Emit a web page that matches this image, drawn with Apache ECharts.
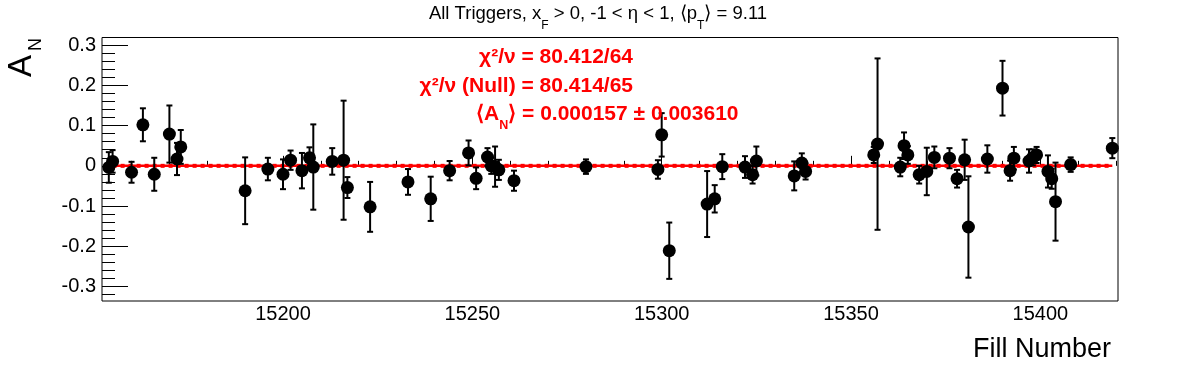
<!DOCTYPE html>
<html>
<head>
<meta charset="utf-8">
<script src="https://cdn.jsdelivr.net/npm/echarts@6/dist/echarts.min.js"></script>
<style>
  html, body { margin: 0; padding: 0; background: #ffffff; }
  #chart { width: 1196px; height: 372px; }
</style>
</head>
<body>
<div id="chart"></div>
<script>
// ---- data ----
const fillNumbers = [15154,15155,15160,15163,15166,15170,15172,15173,15190,15196,
  15200,15202,15205,15207,15208,15213,15216,15217,15223,15233,
  15239,15244,15249,15251,15254,15255,15256,15257,15261,15280,
  15299,15300,15302,15312,15314,15316,15322,15324,15325,15335,
  15337,15338,15356,15357,15363,15364,15365,15368,15370,15372,
  15376,15378,15380,15381,15386,15390,15392,15393,15397,15398,
  15399,15402,15403,15404,15408,15419];
const asymValues = [-0.004,0.011,-0.016,0.102,-0.021,0.079,0.017,0.047,-0.062,-0.008,
  -0.021,0.014,-0.012,0.020,-0.003,0.011,0.014,-0.054,-0.102,-0.040,
  -0.082,-0.012,0.032,-0.031,0.022,0.000,-0.002,-0.010,-0.037,-0.002,
  -0.009,0.077,-0.211,-0.095,-0.082,-0.002,-0.003,-0.022,0.012,-0.025,
  0.007,-0.014,0.027,0.054,-0.003,0.050,0.027,-0.022,-0.014,0.021,
  0.019,-0.032,0.015,-0.152,0.017,0.193,-0.012,0.019,0.012,0.021,
  0.027,-0.014,-0.032,-0.089,0.003,0.044];
const asymErrors = [0.038,0.028,0.026,0.041,0.041,0.071,0.040,0.042,0.083,0.028,
  0.037,0.024,0.044,0.026,0.106,0.033,0.148,0.026,0.062,0.032,
  0.055,0.024,0.031,0.027,0.022,0.020,0.050,0.025,0.025,0.018,
  0.023,0.054,0.070,0.082,0.034,0.031,0.027,0.022,0.036,0.036,
  0.024,0.020,0.020,0.213,0.023,0.033,0.022,0.022,0.059,0.027,
  0.025,0.022,0.050,0.126,0.034,0.068,0.025,0.028,0.029,0.020,
  0.020,0.040,0.025,0.097,0.018,0.025];
const fitValue = 0.000157;
const nullValue = 0;
const fitRange = [15155, 15419];
const xRange = [15152.2, 15420.5];
const yRange = [-0.336, 0.319];
const xMajorTicks = [15200, 15250, 15300, 15350, 15400];
const xMinorTicks = [15160,15170,15180,15190,15200,15210,15220,15230,15240,15250,
  15260,15270,15280,15290,15300,15310,15320,15330,15340,15350,15360,15370,15380,
  15390,15400,15410,15420];
const yMajorTicks = [-0.3, -0.2, -0.1, 0, 0.1, 0.2, 0.3];
const yMinorTicks = [-0.32,-0.30,-0.28,-0.26,-0.24,-0.22,-0.20,-0.18,-0.16,-0.14,-0.12,
  -0.10,-0.08,-0.06,-0.04,-0.02,0,0.02,0.04,0.06,0.08,0.10,0.12,0.14,0.16,0.18,0.20,
  0.22,0.24,0.26,0.28,0.30];
const titleParts = ['All Triggers, x', 'F', ' > 0, -1 < η < 1, ⟨p', 'T', '⟩ = 9.11'];
const statLines = ['χ²/ν = 80.412/64', 'χ²/ν (Null) = 80.414/65'];
const meanParts = ['⟨A', 'N', '⟩ = 0.000157 ± 0.003610'];
const xTitle = 'Fill Number';
const yTitleParts = ['A', 'N'];

// ---- drawing ----
const FAM = '"Liberation Sans", Arial, Helvetica, sans-serif';
const measureCtx = document.createElement('canvas').getContext('2d');
function textWidth(t, font) { measureCtx.font = font; return measureCtx.measureText(t).width; }

// lay out a run of text segments horizontally; seg: {t, font, y}
function layoutRun(segs, x0, align) {
  const widths = segs.map(s => textWidth(s.t, s.font));
  const total = widths.reduce((a, b) => a + b, 0);
  let x = align === 'right' ? x0 - total : (align === 'center' ? x0 - total / 2 : x0);
  const out = [];
  segs.forEach((s, i) => {
    out.push({ type: 'text', silent: true, z: 100,
      style: { x: x, y: s.y, text: s.t, font: s.font, fill: s.fill || '#000',
               align: 'left', verticalAlign: 'middle' } });
    x += widths[i];
  });
  return out;
}

const graphics = [];
// title
const tf = '18.5px ' + FAM, tsf = '12px ' + FAM;
graphics.push(...layoutRun([
  { t: titleParts[0], font: tf, y: 14 },
  { t: titleParts[1], font: tsf, y: 25.5 },
  { t: titleParts[2], font: tf, y: 14 },
  { t: titleParts[3], font: tsf, y: 25.5 },
  { t: titleParts[4], font: tf, y: 14 }
], 598, 'center'));
// stats
const sf = 'bold 21px ' + FAM, ssf = 'bold 12.5px ' + FAM;
graphics.push(...layoutRun([{ t: statLines[0], font: sf, y: 57, fill: '#ff0000' }], 633, 'right'));
graphics.push(...layoutRun([{ t: statLines[1], font: sf, y: 85.8, fill: '#ff0000' }], 633, 'right'));
graphics.push(...layoutRun([
  { t: meanParts[0], font: sf, y: 114, fill: '#ff0000' },
  { t: meanParts[1], font: ssf, y: 126, fill: '#ff0000' },
  { t: meanParts[2], font: sf, y: 114, fill: '#ff0000' }
], 476, 'left'));
// x title
graphics.push(...layoutRun([{ t: xTitle, font: '27px ' + FAM, y: 350 }], 1111, 'right'));
// y title (rotated group)
const yaF = '33px ' + FAM, ynF = '18px ' + FAM;
const aw = textWidth(yTitleParts[0], yaF);
graphics.push({ type: 'group', x: 33.5, y: 77, rotation: Math.PI / 2, silent: true, children: [
  { type: 'text', style: { x: 0, y: -11.8, text: yTitleParts[0], font: yaF, fill: '#000', align: 'left', verticalAlign: 'middle' } },
  { type: 'text', style: { x: aw + 4, y: 2.8, text: yTitleParts[1], font: ynF, fill: '#000', align: 'left', verticalAlign: 'middle' } }
]});

const pointData = fillNumbers.map((f, i) => [f, asymValues[i]]);
const errData = fillNumbers.map((f, i) => [f, asymValues[i], asymErrors[i]]);

function renderErr(params, api) {
  const x = api.value(0), y = api.value(1), e = api.value(2);
  const top = api.coord([x, y + e]);
  const bot = api.coord([x, y - e]);
  const cw = 3;
  const st = { stroke: '#000', lineWidth: 2 };
  return { type: 'group', children: [
    { type: 'line', shape: { x1: top[0], y1: top[1], x2: bot[0], y2: bot[1] }, style: st },
    { type: 'line', shape: { x1: top[0] - cw, y1: top[1], x2: top[0] + cw, y2: top[1] }, style: st },
    { type: 'line', shape: { x1: bot[0] - cw, y1: bot[1], x2: bot[0] + cw, y2: bot[1] }, style: st }
  ]};
}

const axLabel = { color: '#000', fontFamily: FAM, fontSize: 20 };
const chart = echarts.init(document.getElementById('chart'), null, { renderer: 'canvas' });
chart.setOption({
  animation: false,
  backgroundColor: '#ffffff',
  grid: { left: 102, top: 37.5, width: 1016, height: 263.5, show: true,
          borderColor: '#000', borderWidth: 1, backgroundColor: 'transparent', containLabel: false },
  xAxis: [
    { type: 'value', position: 'bottom', min: xRange[0], max: xRange[1],
      axisLine: { show: false }, splitLine: { show: false },
      axisTick: { show: true, inside: true, length: 10, customValues: xMajorTicks, lineStyle: { color: '#000', width: 1 } },
      axisLabel: Object.assign({ show: true, margin: 3, customValues: xMajorTicks, formatter: v => String(Math.round(v)) }, axLabel) },
    { type: 'value', position: 'bottom', min: xRange[0], max: xRange[1],
      axisLine: { show: false }, splitLine: { show: false },
      axisTick: { show: true, inside: true, length: 5, customValues: xMinorTicks, lineStyle: { color: '#000', width: 1 } },
      axisLabel: { show: false } }
  ],
  yAxis: [
    { type: 'value', position: 'left', min: yRange[0], max: yRange[1],
      axisLine: { show: false }, splitLine: { show: false },
      axisTick: { show: true, inside: true, length: 26, customValues: yMajorTicks, lineStyle: { color: '#000', width: 1 } },
      axisLabel: Object.assign({ show: true, margin: 6, customValues: yMajorTicks,
        formatter: v => (Math.abs(v) < 1e-9 ? '0' : v.toFixed(1)) }, axLabel) },
    { type: 'value', position: 'left', min: yRange[0], max: yRange[1],
      axisLine: { show: false }, splitLine: { show: false },
      axisTick: { show: true, inside: true, length: 13, customValues: yMinorTicks, lineStyle: { color: '#000', width: 1 } },
      axisLabel: { show: false } }
  ],
  graphic: graphics,
  series: [
    { type: 'line', xAxisIndex: 0, yAxisIndex: 0, data: [[fitRange[0], nullValue], [fitRange[1], nullValue]],
      symbol: 'none', lineStyle: { color: '#ff0000', width: 4, type: 'dotted' }, z: 2, silent: true },
    { type: 'line', xAxisIndex: 0, yAxisIndex: 0, data: [[fitRange[0], fitValue], [fitRange[1], fitValue]],
      symbol: 'none', lineStyle: { color: '#ff0000', width: 2.5 }, z: 3, silent: true },
    { type: 'custom', xAxisIndex: 0, yAxisIndex: 0, data: errData, renderItem: renderErr, z: 4, silent: true },
    { type: 'scatter', xAxisIndex: 0, yAxisIndex: 0, data: pointData, symbol: 'circle', symbolSize: 13,
      itemStyle: { color: '#000', opacity: 1 }, z: 5, silent: true }
  ]
});
</script>
</body>
</html>
